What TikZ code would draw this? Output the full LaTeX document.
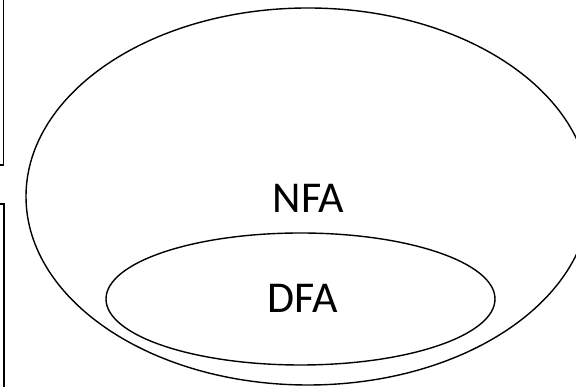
\documentclass[tikz,border=0pt]{standalone}
\usepackage{fontspec}
\setmainfont{Carlito}
\begin{document}
\begin{tikzpicture}[x=1pt,y=1pt,
  outline/.style={draw=black,line width=1.4pt},
  setlabel/.style={anchor=base,inner sep=0pt,font=\fontsize{44}{48}\selectfont}]
\useasboundingbox (0,0) rectangle (576,387);
\clip (0,0) rectangle (576,387);
% frames cut off at the left edge
\draw[outline] (-20,222) rectangle (3.5,420);
\draw[outline] (-20,-20) rectangle (4,183);
% the two sets
\draw[outline] (308,190.5) ellipse [x radius=282, y radius=188.5];
\draw[outline] (300.5,88) ellipse [x radius=194.5, y radius=66];
\node[setlabel] (nfa) at (308.5,174) {NFA};
\node[setlabel] (dfa) at (302.5,74) {DFA};
\end{tikzpicture}
\end{document}
